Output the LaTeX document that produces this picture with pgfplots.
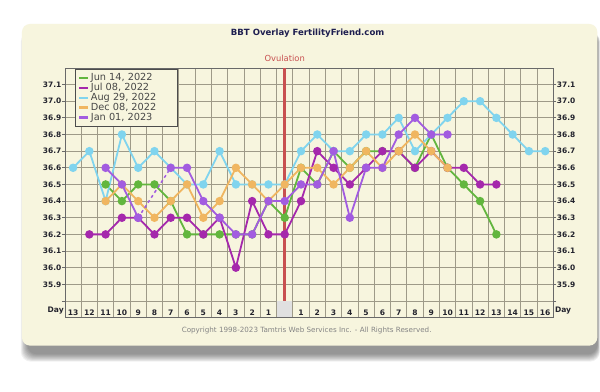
\documentclass[border=0pt]{standalone}
\usepackage{pgfplots}
\usepackage{pgfplotstable}
\pgfplotsset{compat=1.18}
\usepackage{fontspec}
\setmainfont{DejaVu Sans}
\definecolor{cream}{RGB}{247,245,222}
\definecolor{gridc}{RGB}{158,154,136}
\definecolor{framec}{RGB}{105,105,105}
\definecolor{cgreen}{RGB}{98,182,62}
\definecolor{cmag}{RGB}{165,40,172}
\definecolor{ccyan}{RGB}{128,212,238}
\definecolor{corange}{RGB}{240,182,96}
\definecolor{cpurple}{RGB}{162,92,224}
\definecolor{ovred}{RGB}{200,80,80}
\definecolor{titlec}{RGB}{30,30,80}
\definecolor{labc}{RGB}{35,35,45}

\pgfplotstableread{
x y
-11 36.5
-10 36.4
-9 36.5
-8 36.5
-7 36.4
-6 36.2
-5 36.2
-4 36.2
-3 36.2
-2 36.2
-1 36.4
0 36.3
1 36.6
2 36.5
3 36.7
4 36.6
5 36.7
6 36.7
7 36.7
8 36.6
9 36.8
10 36.6
11 36.5
12 36.4
13 36.2
}\jun
\pgfplotstableread{
x y
-12 36.2
-11 36.2
-10 36.3
-9 36.3
-8 36.2
-7 36.3
-6 36.3
-5 36.2
-4 36.3
-3 36.0
-2 36.4
-1 36.2
0 36.2
1 36.4
2 36.7
3 36.6
4 36.5
5 36.6
6 36.7
7 36.7
8 36.6
9 36.7
10 36.6
11 36.6
12 36.5
13 36.5
}\jul
\pgfplotstableread{
x y
-13 36.6
-12 36.7
-11 36.4
-10 36.8
-9 36.6
-8 36.7
-7 36.6
-6 36.5
-5 36.5
-4 36.7
-3 36.5
-2 36.5
-1 36.5
0 36.5
1 36.7
2 36.8
3 36.7
4 36.7
5 36.8
6 36.8
7 36.9
8 36.7
9 36.8
10 36.9
11 37.0
12 37.0
13 36.9
14 36.8
15 36.7
16 36.7
}\aug
\pgfplotstableread{
x y
-11 36.4
-10 36.5
-9 36.4
-8 36.3
-7 36.4
-6 36.5
-5 36.3
-4 36.4
-3 36.6
-2 36.5
-1 36.4
0 36.5
1 36.6
2 36.6
3 36.5
4 36.6
5 36.7
6 36.6
7 36.7
8 36.8
9 36.7
10 36.6
}\dec
\pgfplotstableread{
x y
-11 36.6
-10 36.5
-9 36.3
-8 nan
-7 36.6
-6 36.6
-5 36.4
-4 36.3
-3 36.2
-2 36.2
-1 36.4
0 36.4
1 36.5
2 36.5
3 36.7
4 36.3
5 36.6
6 36.6
7 36.8
8 36.9
9 36.8
10 36.8
}\jan

\begin{document}
\begin{tikzpicture}
\fill[white] (0bp,0bp) rectangle (600bp,392bp);
\foreach \i in {1,...,9} {
  \fill[black, opacity=0.055, rounded corners=10bp]
    (28bp-\i bp*0.8,38bp-\i bp*0.9) rectangle (598bp+\i bp*0.3,360bp);
}
\fill[cream, rounded corners=8bp] (22bp,46bp) rectangle (598bp,368bp);
\node[font=\fontsize{8.6}{10}\selectfont\bfseries, text=titlec] at (308bp,359bp) {BBT Overlay FertilityFriend.com};
\node[font=\fontsize{7.2}{8}\selectfont, text=black!48] at (307bp,61bp) {Copyright 1998-2023 Tamtris Web Services Inc. - All Rights Reserved.};

\begin{axis}[
  at={(65bp,74bp)}, anchor=south west,
  scale only axis, width=489bp, height=250bp,
  xmin=-13.5, xmax=16.5, ymin=35.7, ymax=37.2,
  clip=false,
  axis line style={framec, line width=0.8bp},
  xtick={-13,-12,...,16},
  xticklabels={13,12,11,10,9,8,7,6,5,4,3,2,1,{},1,2,3,4,5,6,7,8,9,10,11,12,13,14,15,16},
  xticklabel style={yshift=11.1bp, inner sep=0pt, font=\fontsize{7.6}{8}\selectfont\bfseries, text=labc},
  x tick style={draw=none},
  minor xtick={-12.5,-11.5,...,15.5},
  xminorgrids=true,
  minor grid style={gridc, line width=0.85bp},
  minor tick length=0pt,
  ytick={35.8,35.9,36.0,36.1,36.2,36.3,36.4,36.5,36.6,36.7,36.8,36.9,37.0,37.1},
  yticklabels={,35.9,36.0,36.1,36.2,36.3,36.4,36.5,36.6,36.7,36.8,36.9,37.0,37.1},
  ymajorgrids=true,
  major grid style={gridc, line width=0.85bp},
  ytick pos=left,
  tick align=outside,
  major tick length=3bp,
  y tick style={framec, line width=0.8bp},
  yticklabel style={inner sep=0.4bp, font=\fontsize{7.5}{8}\selectfont\bfseries, text=labc},
  /pgf/number format/assume math mode=true,
  unbounded coords=jump,
  legend cell align=left,
  legend style={at={(axis description cs:0,1)}, anchor=north west, xshift=10bp, yshift=-1bp,
    fill=cream, draw=black!70, line width=0.8bp, font=\fontsize{9.8}{10}\selectfont, text=black!72,
    inner xsep=2.5bp, inner ysep=2.2bp, row sep=-2.8bp},
  legend image code/.code={\draw[line width=2.6bp] (0bp,0bp) -- (8.5bp,0bp);},
  every axis plot/.append style={line width=1.8bp, mark=*, mark size=3.3bp, mark options={solid}},
]
\addplot[fill=black!12, draw=none, mark=none, forget plot] coordinates {(-0.47,35.703) (0.47,35.703) (0.47,35.797) (-0.47,35.797)} --cycle;
\addplot[ovred, line width=2.5bp, mark=none, forget plot] coordinates {(0,35.8) (0,37.2)};
\addplot[cgreen] table {\jun};
\addlegendentry{Jun 14, 2022\hspace*{20bp}}
\addplot[cmag] table {\jul};
\addlegendentry{Jul 08, 2022}
\addplot[ccyan] table {\aug};
\addlegendentry{Aug 29, 2022}
\addplot[corange] table {\dec};
\addlegendentry{Dec 08, 2022}
\addplot[cpurple, dashed, line width=1.5bp, mark=none, forget plot] coordinates {(-9,36.3) (-7,36.6)};
\addplot[cpurple] table {\jan};
\addlegendentry{Jan 01, 2023}
\node[anchor=base east, font=\fontsize{7.6}{8}\selectfont\bfseries, text=labc, xshift=-1bp, yshift=5.6bp, inner sep=0pt] at (axis cs:-13.5,35.7) {Day};
\node[anchor=base west, font=\fontsize{7.6}{8}\selectfont\bfseries, text=labc, xshift=1.5bp, yshift=5.6bp, inner sep=0pt] at (axis cs:16.5,35.7) {Day};
\node[anchor=south, font=\fontsize{8.4}{9}\selectfont, text=ovred, yshift=3bp] at (axis cs:0,37.2) {Ovulation};
\end{axis}

\begin{axis}[
  at={(65bp,74bp)}, anchor=south west,
  scale only axis, width=489bp, height=250bp,
  xmin=-13.5, xmax=16.5, ymin=35.7, ymax=37.2,
  hide x axis, axis y line*=right,
  axis line style={framec, line width=0.8bp},
  ytick={35.8,35.9,36.0,36.1,36.2,36.3,36.4,36.5,36.6,36.7,36.8,36.9,37.0,37.1},
  yticklabels={,35.9,36.0,36.1,36.2,36.3,36.4,36.5,36.6,36.7,36.8,36.9,37.0,37.1},
  tick align=outside,
  major tick length=3bp,
  y tick style={framec, line width=0.8bp},
  yticklabel style={inner sep=0.4bp, font=\fontsize{7.5}{8}\selectfont\bfseries, text=labc},
]
\addplot[draw=none, mark=none] coordinates {(0,36.5)};
\end{axis}
\end{tikzpicture}
\end{document}
